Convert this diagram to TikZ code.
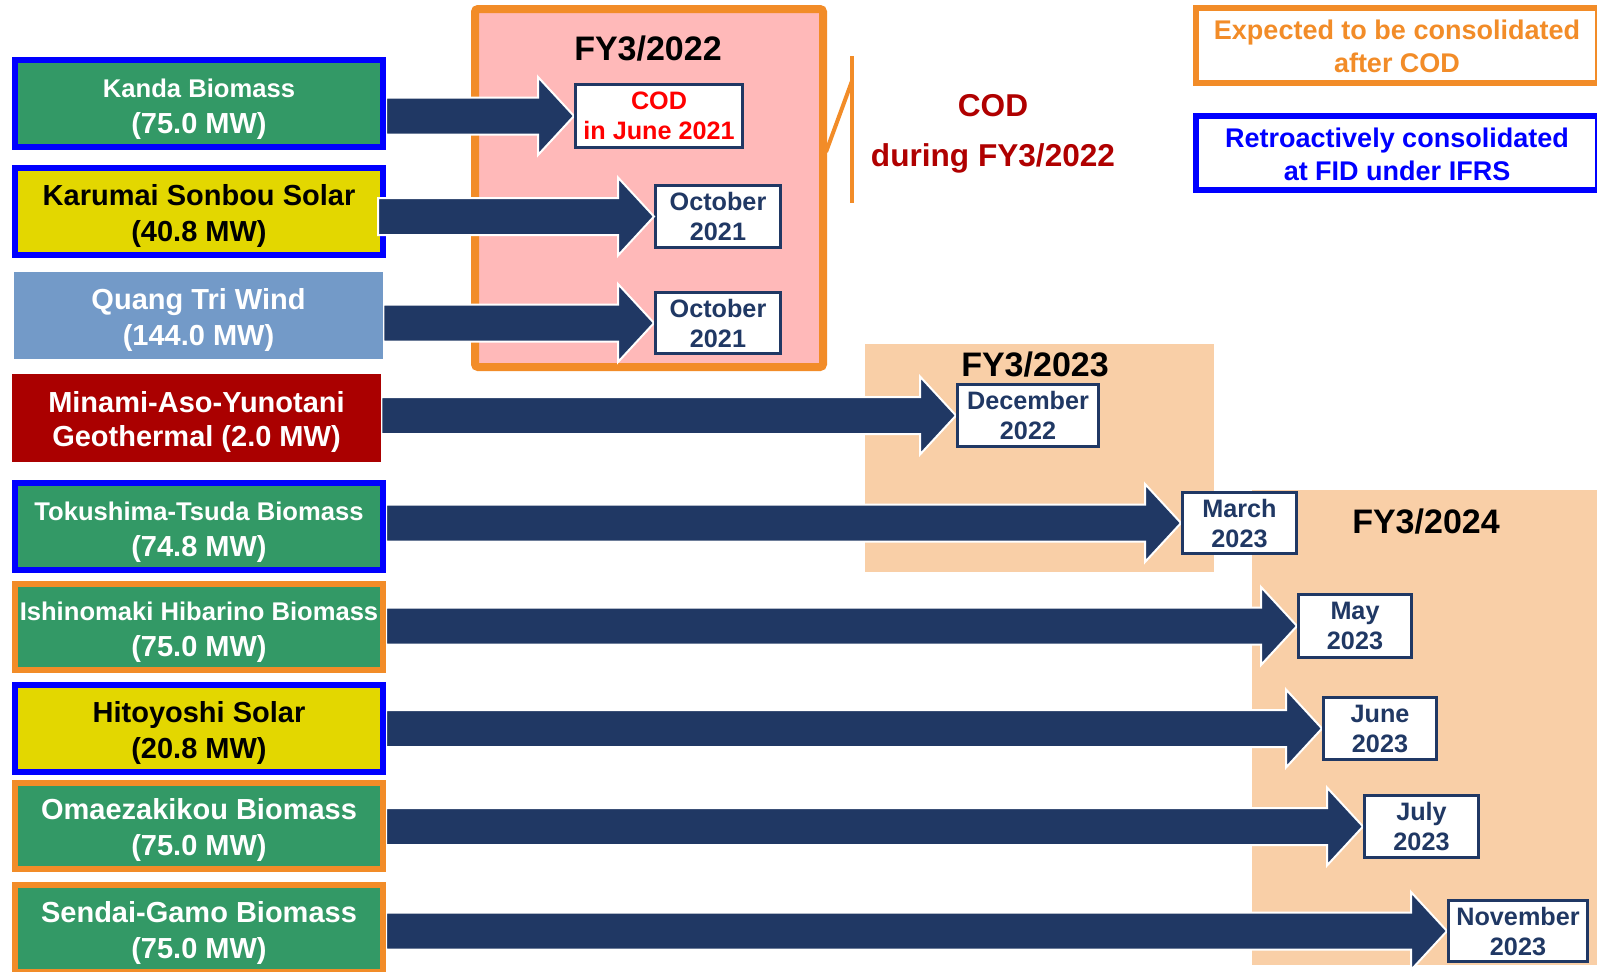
\documentclass[tikz,border=0pt]{standalone}
\usepackage{fontspec}
\setmainfont{Liberation Sans}
\usetikzlibrary{calc}
\definecolor{navy}{HTML}{203864}
\definecolor{bgreen}{HTML}{339966}
\definecolor{borange}{HTML}{F28C28}
\definecolor{byellow}{HTML}{E3D700}
\definecolor{qblue}{HTML}{739AC8}
\definecolor{gred}{HTML}{AA0000}
\definecolor{pinkbg}{HTML}{FFB9B9}
\definecolor{peach}{HTML}{F9CFA7}
\definecolor{codred}{HTML}{B00000}
\definecolor{pureblue}{HTML}{0000FF}
\definecolor{purered}{HTML}{FF0000}
\pgfdeclarelayer{bg}\pgfdeclarelayer{arr}\pgfsetlayers{bg,arr,main}
\newcommand\fatarrow[3][0pt]{%
  \path[fatarr] let \p1=(#2.east), \p2=(#3.west) in
    (\x1+#1,\y2+9.25pt) -- (\x2-18pt,\y2+9.25pt) -- (\x2-18pt,\y2+19.5pt) -- (\x2,\y2)
    -- (\x2-18pt,\y2-19.5pt) -- (\x2-18pt,\y2-9.25pt) -- (\x1+#1,\y2-9.25pt) -- cycle;}
\newcommand\tstrut{\rule{0pt}{14.5pt}}
\tikzset{
  plant/.style={minimum width=184pt, minimum height=43.5pt, inner sep=0pt, align=center,
    font=\bfseries\fontsize{14.5}{18}\selectfont},
  bluebord/.style={draw=pureblue, line width=3pt},
  orbord/.style={draw=borange, line width=3pt},
  greenbox/.style={plant, fill=bgreen, text=white},
  yellowbox/.style={plant, fill=byellow, text=black},
  datebox/.style={draw=navy, line width=1.5pt, fill=white, text=navy, inner sep=0pt,
    align=center, font=\bfseries\fontsize{12.6}{15}\selectfont},
  fylabel/.style={inner sep=0pt, font=\bfseries\fontsize{17}{20}\selectfont, text=black},
  legendbox/.style={line width=3pt, fill=white, minimum width=201pt, inner sep=0pt,
    align=center, font=\bfseries\fontsize{13.5}{16.5}\selectfont},
  fatarr/.style={fill=navy, draw=white, line width=1pt},
  bracket/.style={draw=borange, line width=2pt}
}
\begin{document}
\begin{tikzpicture}[x=0.5pt,y=-0.5pt]
\useasboundingbox (0,0) rectangle (1597,971);
\begin{pgfonlayer}{bg}
  \fill[white] (0,0) rectangle (1597,971);
  \node[draw=borange, line width=4pt, fill=pinkbg, rounded corners=1.5pt,
        minimum width=174pt, minimum height=179pt, inner sep=0pt] (fy22box) at (649,188) {};
  \fill[peach] (865,344) rectangle (1214,572);
  \fill[peach] (1252,490) rectangle (1600,965);
\end{pgfonlayer}

% FY labels
\node[fylabel] (fy22) at (648,49) {FY3/2022};
\node[fylabel] (fy23) at (1035,365) {FY3/2023};
\node[fylabel] (fy24) at (1426,522) {FY3/2024};

% bracket and COD note
\coordinate (brtop) at (852,56);
\coordinate (brbot) at (852,203);
\coordinate (brjoin) at (852,81);
\coordinate (brlow) at (826,152);
\draw[bracket] (brtop) -- (brbot);
\draw[bracket] (brlow) -- (brjoin);
\node[inner sep=0pt, align=center, text=codred, font=\bfseries\fontsize{15.8}{25}\selectfont]
  (codnote) at (993,134) {COD\\during FY3/2022};

% legend
\node[legendbox, draw=borange, text=borange, minimum height=37.5pt] (leg1) at (1397,45.5)
  {\rule{0pt}{11pt}Expected to be consolidated\\after COD};
\node[legendbox, draw=pureblue, text=pureblue, minimum height=37pt] (leg2) at (1397,153)
  {\rule{0pt}{11pt}Retroactively consolidated\\at FID under IFRS};

% plants
\node[greenbox, bluebord] (kanda) at (199,103.5)
  {\tstrut{\fontsize{12.8}{18}\selectfont Kanda Biomass}\\(75.0 MW)};
\node[yellowbox, bluebord] (karumai) at (199,211.5) {\tstrut Karumai Sonbou Solar\\(40.8 MW)};
\node[plant, fill=qblue, text=white, minimum width=184.5pt] (quang) at (198.5,315.5)
  {\tstrut Quang Tri Wind\\(144.0 MW)};
\node[plant, fill=gred, text=white, minimum width=184.5pt, minimum height=44pt,
      font=\bfseries\fontsize{14.5}{17}\selectfont] (minami) at (196.5,418)
  {\tstrut Minami-Aso-Yunotani\\Geothermal (2.0 MW)};
\node[greenbox, bluebord] (tokushima) at (199,526.5)
  {\tstrut{\fontsize{12.8}{18}\selectfont Tokushima-Tsuda Biomass}\\(74.8 MW)};
\node[greenbox, orbord, minimum height=43pt] (ishinomaki) at (199,627)
  {\tstrut{\fontsize{12.8}{18}\selectfont Ishinomaki Hibarino Biomass}\\(75.0 MW)};
\node[yellowbox, bluebord] (hitoyoshi) at (199,728.5) {\tstrut Hitoyoshi Solar\\(20.8 MW)};
\node[greenbox, orbord, minimum height=43pt] (omaezaki) at (199,826)
  {\tstrut Omaezakikou Biomass\\(75.0 MW)};
\node[greenbox, orbord] (sendai) at (199,928.5) {\tstrut Sendai-Gamo Biomass\\(75.0 MW)};

% dates
\node[datebox, text=purered, minimum width=83.5pt, minimum height=31.5pt] (cod) at (659,116)
  {COD\\in June 2021};
\node[datebox, minimum width=62.5pt, minimum height=31pt] (oct1) at (718,216.5) {October\\2021};
\node[datebox, minimum width=62.5pt, minimum height=30.5pt] (oct2) at (718,323) {October\\2021};
\node[datebox, minimum width=70.5pt, minimum height=31pt] (dec) at (1028,415.5) {December\\2022};
\node[datebox, minimum width=57pt, minimum height=30.5pt] (mar) at (1239.5,523) {March\\2023};
\node[datebox, minimum width=56.5pt, minimum height=31.5pt] (may) at (1355,626) {May\\2023};
\node[datebox, minimum width=56.5pt, minimum height=31pt] (jun) at (1380,728.5) {June\\2023};
\node[datebox, minimum width=57pt, minimum height=31pt] (jul) at (1421.5,826.5) {July\\2023};
\node[datebox, minimum width=69.5pt, minimum height=30.5pt] (nov) at (1518,931) {November\\2023};

% arrows
\begin{pgfonlayer}{arr}
  \fatarrow{kanda}{cod}
  \fatarrow{quang}{oct2}
  \fatarrow{minami}{dec}
  \fatarrow{tokushima}{mar}
  \fatarrow{ishinomaki}{may}
  \fatarrow{hitoyoshi}{jun}
  \fatarrow{omaezaki}{jul}
  \fatarrow{sendai}{nov}
\end{pgfonlayer}
\fatarrow[-4pt]{karumai}{oct1}
\end{tikzpicture}
\end{document}
